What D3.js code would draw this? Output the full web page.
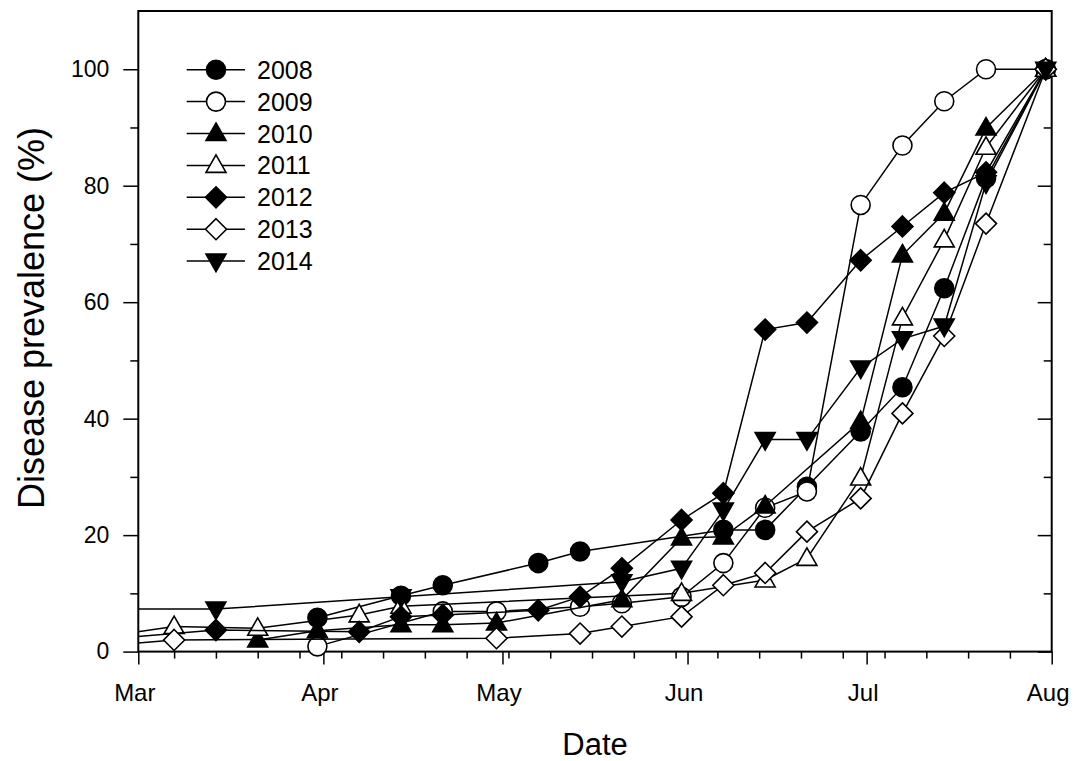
<!DOCTYPE html>
<html>
<head>
<meta charset="utf-8">
<script src="https://cdn.jsdelivr.net/npm/d3@7/dist/d3.min.js"></script>
<style>
body { margin: 0; background: #fff; }
text { font-family: "Liberation Sans", Arial, sans-serif; fill: #000; }
</style>
</head>
<body>
<script>
// sampling dates (one common calendar), nulls where a year was not scored
var sampleDates = ["2014-02-21","2014-03-07","2014-03-14","2014-03-21","2014-03-31","2014-04-07",
  "2014-04-14","2014-04-21","2014-04-30","2014-05-07","2014-05-14","2014-05-21","2014-05-31",
  "2014-06-07","2014-06-14","2014-06-21","2014-06-30","2014-07-07","2014-07-14","2014-07-21","2014-07-31"];

var years = ["2008","2009","2010","2011","2012","2013","2014"];

var v2008 = [null,null,null,null,5.8,null,9.6,11.4,null,15.2,17.2,null,null,20.9,20.9,28.3,37.8,45.4,62.4,81.3,100];
var v2009 = [null,null,null,null,0.9,null,null,6.9,6.9,null,7.7,8.3,9.4,15.2,24.7,27.5,76.7,86.9,94.5,100,100];
var v2010 = [null,null,null,2.0,3.6,null,4.6,4.6,4.9,null,null,8.9,19.5,19.7,25.0,null,39.5,68.1,75.3,89.9,100];
var v2011 = [2.2,4.3,null,4.0,null,6.3,7.8,null,null,null,null,null,10.0,null,12.3,16.0,29.8,57.3,70.7,86.6,100];
var v2012 = [1.9,null,3.7,null,null,3.4,6.0,6.3,null,7.1,9.4,14.3,22.6,27.2,55.3,56.5,67.2,73.0,78.8,82.3,100];
var v2013 = [0.8,2.0,null,null,null,null,null,null,2.3,null,3.1,4.3,6.0,11.4,13.5,20.6,26.3,40.9,54.2,73.5,100];
var v2014 = [7.3,null,7.3,null,null,null,9.4,null,null,null,null,12.0,14.3,24.3,36.4,36.4,48.7,53.7,55.9,80.5,100];

var seriesValues = [v2008, v2009, v2010, v2011, v2012, v2013, v2014];
var symbols = ["circle","circle","up","up","diamond","diamond","down"];
var fills = ["#000","#fff","#000","#fff","#000","#fff","#000"];

var yTicks = [0, 20, 40, 60, 80, 100];
var yMinor = [10, 30, 50, 70, 90];

var W = 1084, H = 761;
var L = 138.3, T = 11, R = 1051.7, B = 651.6;

var parse = d3.timeParse("%Y-%m-%d");
var x = d3.scaleTime().domain([parse("2014-03-01"), parse("2014-08-01")]).range([L, R]);
var y = d3.scaleLinear().domain([0, 110]).range([B, T]);

var svg = d3.select("body").append("svg").attr("width", W).attr("height", H);

svg.append("defs").append("clipPath").attr("id", "plotclip")
  .append("rect").attr("x", L).attr("y", 0).attr("width", W - L).attr("height", H);

function symPath(s) {
  if (s == "circle") return d3.symbol(d3.symbolCircle, Math.PI * 9.5 * 9.5)();
  if (s == "up") return "M0,-10.5L10,7L-10,7Z";
  if (s == "down") return "M0,10.5L10,-7L-10,-7Z";
  return "M0,-10.5L10.5,0L0,10.5L-10.5,0Z";
}

// axes: bottom (ticks outward), left (outward), right (inward)
var months = d3.timeMonth.range(parse("2014-03-01"), parse("2014-08-02"));
var weeks = d3.timeFriday.range(parse("2014-03-01"), parse("2014-08-01"));

svg.append("g").attr("transform", "translate(0," + B + ")")
  .call(d3.axisBottom(x).tickValues(weeks).tickSize(7).tickFormat(""))
  .call(function(g) { g.select(".domain").remove(); });
svg.append("g").attr("transform", "translate(0," + B + ")")
  .call(d3.axisBottom(x).tickValues(months).tickSize(13).tickPadding(19).tickFormat(d3.timeFormat("%b")))
  .call(function(g) {
    g.select(".domain").remove();
    g.selectAll("text").style("font-size", "24px").attr("dx", -4);
  });

svg.append("g").attr("transform", "translate(" + L + ",0)")
  .call(d3.axisLeft(y).tickValues(yMinor).tickSize(8).tickFormat(""))
  .call(function(g) { g.select(".domain").remove(); });
svg.append("g").attr("transform", "translate(" + L + ",0)")
  .call(d3.axisLeft(y).tickValues(yTicks).tickSize(15).tickPadding(14))
  .call(function(g) { g.select(".domain").remove(); g.selectAll("text").style("font-size", "23px"); });

svg.append("g").attr("transform", "translate(" + R + ",0)")
  .call(d3.axisLeft(y).tickValues(yMinor).tickSize(8).tickFormat(""))
  .call(function(g) { g.select(".domain").remove(); });
svg.append("g").attr("transform", "translate(" + R + ",0)")
  .call(d3.axisLeft(y).tickValues(yTicks).tickSize(14).tickFormat(""))
  .call(function(g) { g.select(".domain").remove(); });

svg.selectAll(".tick line").attr("stroke", "#000").attr("stroke-width", 1.5);

svg.append("rect").attr("x", L).attr("y", T).attr("width", R - L).attr("height", B - T)
  .attr("fill", "none").attr("stroke", "#000").attr("stroke-width", 2);

// series
var line = d3.line().x(function(d) { return x(d.date); }).y(function(d) { return y(d.v); });
var plot = svg.append("g").attr("clip-path", "url(#plotclip)");

seriesValues.forEach(function(vals, i) {
  var pts = [];
  vals.forEach(function(v, j) { if (v != null) pts.push({date: parse(sampleDates[j]), v: v}); });
  var g = plot.append("g");
  g.append("path").datum(pts).attr("d", line)
    .attr("fill", "none").attr("stroke", "#000").attr("stroke-width", 1.5);
  g.selectAll("path.pt").data(pts).enter().append("path").attr("class", "pt")
    .attr("transform", function(d) { return "translate(" + x(d.date) + "," + y(d.v) + ")"; })
    .attr("d", symPath(symbols[i]))
    .attr("fill", fills[i]).attr("stroke", "#000").attr("stroke-width", 1.6);
});

// legend
var leg = svg.append("g");
years.forEach(function(yr, i) {
  var ly = 69.7 + i * 31.9;
  leg.append("line").attr("x1", 186.7).attr("x2", 245).attr("y1", ly).attr("y2", ly)
    .attr("stroke", "#000").attr("stroke-width", 1.5);
  leg.append("path").attr("transform", "translate(216," + ly + ")").attr("d", symPath(symbols[i]))
    .attr("fill", fills[i]).attr("stroke", "#000").attr("stroke-width", 1.6);
  leg.append("text").attr("x", 257).attr("y", ly).attr("dy", "0.36em")
    .style("font-size", "25px").text(yr);
});

// axis titles
svg.append("text").attr("x", (L + R) / 2).attr("y", 755).attr("text-anchor", "middle")
  .style("font-size", "31px").text("Date");
svg.append("text").attr("transform", "translate(44,318) rotate(-90)")
  .attr("text-anchor", "middle").style("font-size", "36px").text("Disease prevalence (%)");
</script>
</body>
</html>
